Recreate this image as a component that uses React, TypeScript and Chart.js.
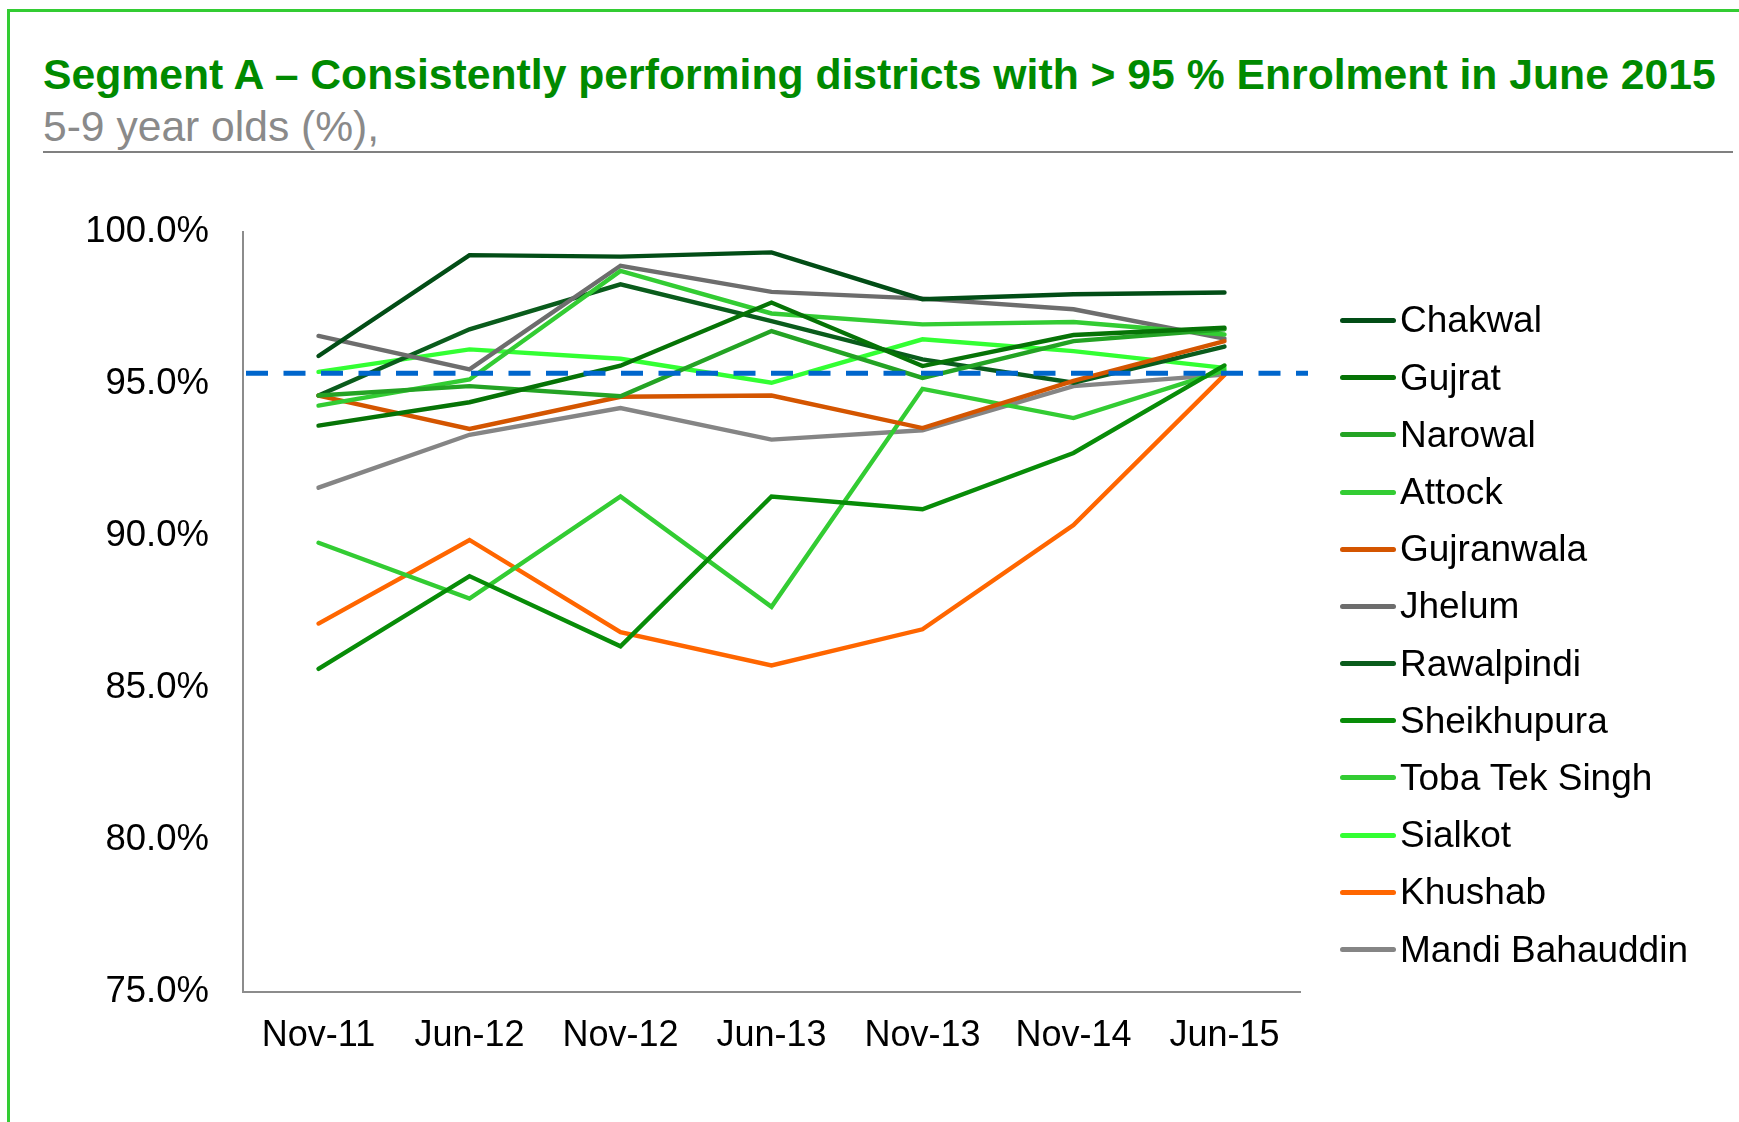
import React, { useEffect, useRef } from 'react';
import { Chart, registerables } from 'chart.js';

Chart.register(...registerables);

const categories = ['Nov-11', 'Jun-12', 'Nov-12', 'Jun-13', 'Nov-13', 'Nov-14', 'Jun-15'];

const seriesNames = [
  'Chakwal', 'Gujrat', 'Narowal', 'Attock', 'Gujranwala', 'Jhelum',
  'Rawalpindi', 'Sheikhupura', 'Toba Tek Singh', 'Sialkot', 'Khushab', 'Mandi Bahauddin',
];

const seriesColors = [
  '#024d16', '#067306', '#24a324', '#33cc33', '#d45500', '#6d6d6d',
  '#0a5c1c', '#088c08', '#33cc33', '#33ff33', '#ff6600', '#858585',
];

const chakwal = [95.92, 99.24, 99.19, 99.33, 97.79, 97.95, 98.01];
const gujrat = [93.63, 94.4, 95.6, 97.68, 95.59, 96.61, 96.85];
const narowal = [94.62, 94.93, 94.6, 96.74, 95.2, 96.41, 96.8];
const attock = [94.29, 95.15, 98.72, 97.32, 96.96, 97.04, 96.63];
const gujranwala = [94.62, 93.52, 94.58, 94.62, 93.55, 95.1, 96.41];
const jhelum = [96.58, 95.48, 98.89, 98.03, 97.81, 97.46, 96.49];
const rawalpindi = [94.62, 96.8, 98.28, 97.07, 95.81, 95.04, 96.23];
const sheikhupura = [85.63, 88.68, 86.37, 91.3, 90.88, 92.73, 95.61];
const tobaTekSingh = [89.78, 87.94, 91.3, 87.67, 94.84, 93.88, 95.45];
const sialkot = [95.4, 96.14, 95.83, 95.04, 96.47, 96.08, 95.53];
const khushab = [87.12, 89.87, 86.84, 85.74, 86.93, 90.36, 95.3];
const mandiBahauddin = [91.59, 93.33, 94.21, 93.17, 93.48, 94.93, 95.31];

const seriesValues = [
  chakwal, gujrat, narowal, attock, gujranwala, jhelum,
  rawalpindi, sheikhupura, tobaTekSingh, sialkot, khushab, mandiBahauddin,
];

const targetValue = 95.35;
const yMin = 75;
const yMax = 100;
const yStep = 5;

const titleText = 'Segment A \u2013 Consistently performing districts with > 95 % Enrolment in June 2015';
const subtitleText = '5-9 year olds (%),';

const FONT = '"Liberation Sans", Arial, Helvetica, sans-serif';

const targetLinePlugin = {
  id: 'targetLine',
  afterDatasetsDraw(chart: any) {
    const y = chart.scales.y.getPixelForValue(targetValue);
    const { left, right } = chart.chartArea;
    const ctx = chart.ctx;
    ctx.save();
    ctx.strokeStyle = '#0066cc';
    ctx.lineWidth = 5;
    ctx.setLineDash([22, 15.5]);
    ctx.beginPath();
    ctx.moveTo(left + 3, y);
    ctx.lineTo(right + 8, y);
    ctx.stroke();
    ctx.restore();
  },
};

export default function App() {
  const canvasRef = useRef<HTMLCanvasElement | null>(null);

  useEffect(() => {
    if (!canvasRef.current) return;
    const chart = new Chart(canvasRef.current, {
      type: 'line',
      data: {
        labels: categories,
        datasets: seriesNames.map((name, i) => ({
          label: name,
          data: seriesValues[i],
          borderColor: seriesColors[i],
          backgroundColor: seriesColors[i],
          borderWidth: 4.4,
          pointRadius: 0,
          pointHoverRadius: 0,
          tension: 0,
          fill: false,
          borderCapStyle: 'round',
        })),
      },
      options: {
        animation: false,
        responsive: false,
        devicePixelRatio: 1,
        layout: { padding: { left: 0, right: 439, top: 232, bottom: 50 } },
        plugins: {
          legend: { display: false },
          title: { display: false },
          tooltip: { enabled: false },
        },
        scales: {
          x: {
            offset: true,
            grid: { display: false, drawTicks: false },
            border: { display: true, color: '#8c8c8c', width: 2 },
            ticks: {
              color: '#000000',
              padding: 22,
              font: { family: FONT, size: 36 },
              maxRotation: 0,
              autoSkip: false,
            },
            afterFit: (s: any) => { s.height = 80; },
          },
          y: {
            min: yMin,
            max: yMax,
            grid: { display: false, drawTicks: false },
            border: { display: true, color: '#8c8c8c', width: 2 },
            ticks: {
              stepSize: yStep,
              color: '#000000',
              padding: 34,
              font: { family: FONT, size: 36.5 },
              callback: (v: any) => Number(v).toFixed(1) + '%',
            },
            afterFit: (s: any) => { s.width = 243; },
          },
        },
      },
      plugins: [targetLinePlugin],
    });
    return () => chart.destroy();
  }, []);

  return (
    <div style={{ position: 'absolute', left: 0, top: 0, width: 1739, height: 1122, overflow: 'hidden', background: '#ffffff', fontFamily: FONT }}>
      <div style={{ position: 'absolute', left: 7, top: 9, width: 1760, height: 1140, borderTop: '3px solid #33cc33', borderLeft: '3px solid #33cc33' }} />
      <div style={{ position: 'absolute', left: 43, top: 53, fontSize: 42.7, lineHeight: '42px', fontWeight: 'bold', color: '#008a00', whiteSpace: 'nowrap' }}>{titleText}</div>
      <div style={{ position: 'absolute', left: 43, top: 105, fontSize: 42.6, lineHeight: '42px', color: '#8a8a8a', whiteSpace: 'nowrap' }}>{subtitleText}</div>
      <div style={{ position: 'absolute', left: 43, top: 151, width: 1690, height: 2, background: '#808080' }} />
      <canvas ref={canvasRef} width={1739} height={1122} style={{ position: 'absolute', left: 0, top: 0, width: 1739, height: 1122 }} />
      <div style={{ position: 'absolute', left: 1340, top: 320.5 - 28.6, width: 390 }}>
        {seriesNames.map((name, i) => (
          <div key={name} style={{ display: 'flex', alignItems: 'center', height: 57.2 }}>
            <div style={{ width: 56, height: 5, borderRadius: 3, background: seriesColors[i], marginRight: 4 }} />
            <span style={{ fontSize: 37, color: '#000000', lineHeight: '40px', whiteSpace: 'nowrap' }}>{name}</span>
          </div>
        ))}
      </div>
    </div>
  );
}
